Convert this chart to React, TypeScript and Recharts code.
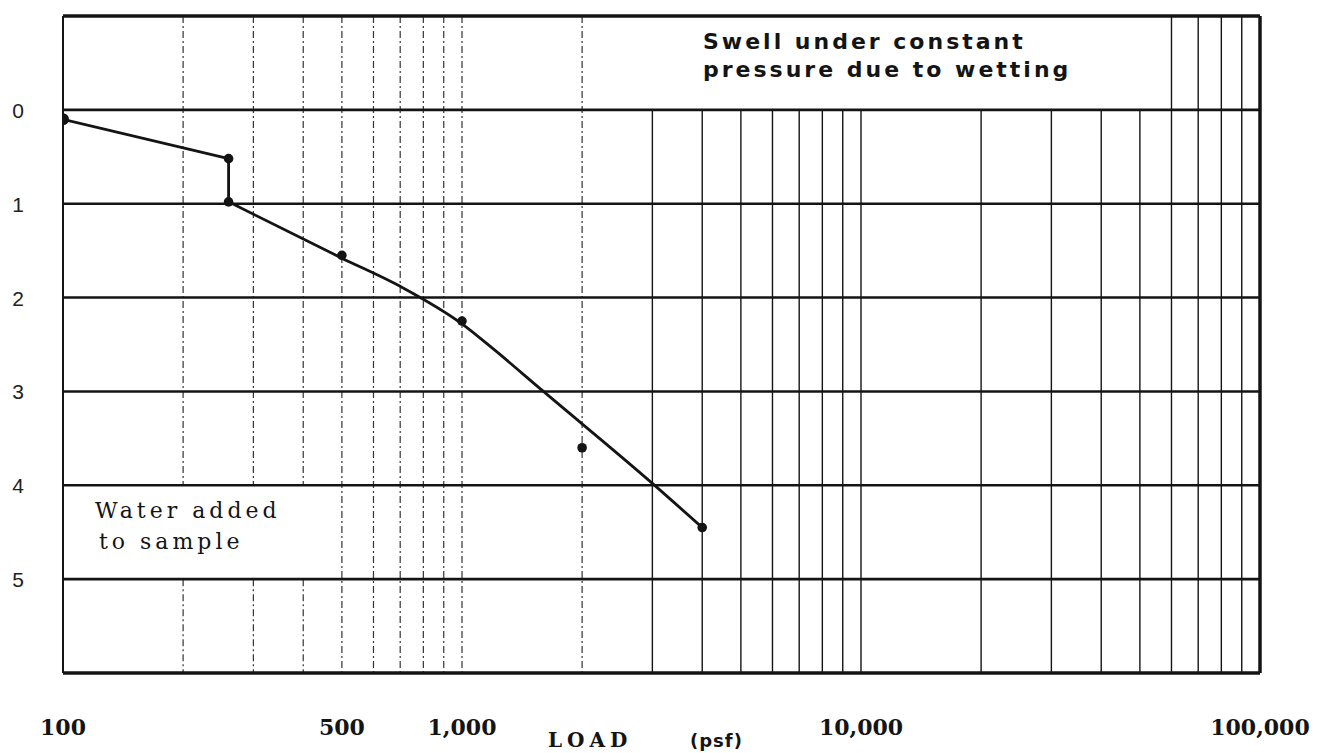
import {
  ComposedChart,
  Line,
  Scatter,
  XAxis,
  YAxis,
  ReferenceLine,
} from 'recharts';

// swell test: dial reading vs load (log scale)
const markerLoad = [100, 260, 260, 500, 1000, 2000, 4000];
const markerSwell = [0.1, 0.52, 0.98, 1.55, 2.25, 3.6, 4.45];

// loading before water was added
const dryLoad = [100, 260];
const drySwell = [0.1, 0.52];

// swell at constant pressure when wetted
const wetLoad = [260, 260];
const wetSwell = [0.52, 0.98];

// hand drawn curve after wetting
const curveLoad = [260, 500, 700, 1000, 1200, 1600, 3000, 4000];
const curveSwell = [0.98, 1.58, 1.88, 2.28, 2.55, 3.0, 3.98, 4.45];

const xTicks = [100, 500, 1000, 10000, 100000];
const yTicks = [0, 1, 2, 3, 4, 5];
const hLines = [-1, 0, 1, 2, 3, 4, 5, 6];
const vLines = [
  200, 300, 400, 500, 600, 700, 800, 900, 1000,
  2000, 3000, 4000, 5000, 6000, 7000, 8000, 9000, 10000,
  20000, 30000, 40000, 50000, 60000, 70000, 80000, 90000,
];
// grid is blank behind the two notes
const topNoteLoads = [3000, 4000, 5000, 6000, 7000, 8000, 9000, 10000, 20000, 30000, 40000, 50000];
const bottomNoteLoads = [200, 300, 400];

const toRows = (xs: number[], ys: number[]) => xs.map((load, i) => ({ load, swell: ys[i] }));

const markers = toRows(markerLoad, markerSwell);
const dry = toRows(dryLoad, drySwell);
const wet = toRows(wetLoad, wetSwell);
const curve = toRows(curveLoad, curveSwell);

const INK = '#141414';

// split a vertical grid line into runs that skip the note boxes
function segmentsFor(load: number) {
  const runs: [number, number][] = [];
  for (let r = -1; r < 6; r++) {
    const hidden =
      (r === -1 && topNoteLoads.includes(load)) || (r === 4 && bottomNoteLoads.includes(load));
    if (hidden) continue;
    const last = runs[runs.length - 1];
    if (last && last[1] === r) last[1] = r + 1;
    else runs.push([r, r + 1]);
  }
  return runs;
}

const fmt = (v: number) => v.toLocaleString('en-US');

const XTick = ({ x, payload }: any) => (
  <text
    x={x}
    y={735}
    textAnchor="middle"
    fontFamily="DejaVu Serif"
    fontWeight="bold"
    fontSize={22}
    fill={INK}
  >
    {fmt(payload.value)}
  </text>
);

const YTick = ({ y, payload }: any) => (
  <text x={18} y={y} dy={8} textAnchor="middle" fontFamily="Liberation Sans" fontSize={21} fill="#222">
    {payload.value}
  </text>
);

const dot = (props: any) => <circle cx={props.cx} cy={props.cy} r={props.index === 0 ? 6 : 4.8} fill={INK} />;

export default function App() {
  return (
    <div style={{ position: 'absolute', left: 0, top: 0, background: '#fff' }}>
      <ComposedChart width={1338} height={753} margin={{ top: 16, right: 78, bottom: 0, left: 0 }}>
        <XAxis
          dataKey="load"
          type="number"
          scale="log"
          domain={[100, 100000]}
          ticks={xTicks}
          tick={<XTick />}
          axisLine={false}
          tickLine={false}
          height={80}
          allowDataOverflow
        />
        <YAxis
          dataKey="swell"
          type="number"
          domain={[-1, 6]}
          reversed
          ticks={yTicks}
          tick={<YTick />}
          axisLine={false}
          tickLine={false}
          width={63}
          allowDataOverflow
        />

        {vLines.map((load) =>
          segmentsFor(load).map(([a, b]) => (
            <ReferenceLine
              key={`v-${load}-${a}`}
              segment={[
                { x: load, y: a },
                { x: load, y: b },
              ]}
              stroke={load < 3000 ? '#333' : INK}
              strokeWidth={load < 3000 ? 1.2 : 1.4}
              strokeDasharray={load < 3000 ? '7 3 2 3' : undefined}
            />
          ))
        )}
        {hLines.map((v) => (
          <ReferenceLine
            key={`h-${v}`}
            y={v}
            stroke={INK}
            strokeWidth={v === -1 || v === 6 ? 3.5 : 2.6}
          />
        ))}
        <ReferenceLine x={100} stroke={INK} strokeWidth={2} />
        <ReferenceLine x={100000} stroke={INK} strokeWidth={3.5} />

        <Line data={dry} dataKey="swell" type="linear" stroke={INK} strokeWidth={2.8} dot={false} isAnimationActive={false} />
        <Line data={wet} dataKey="swell" type="linear" stroke={INK} strokeWidth={2.8} dot={false} isAnimationActive={false} />
        <Line data={curve} dataKey="swell" type="monotone" stroke={INK} strokeWidth={2.8} dot={false} isAnimationActive={false} />
        <Scatter data={markers} dataKey="swell" shape={dot} isAnimationActive={false} />

        <text fontFamily="DejaVu Sans" fontWeight="bold" fontSize={22} letterSpacing={3} fill={INK}>
          <tspan x={703} y={49}>Swell under constant</tspan>
          <tspan x={703} y={77}>pressure due to wetting</tspan>
        </text>
        <text fontFamily="DejaVu Serif" fontSize={22} letterSpacing={4} fill={INK}>
          <tspan x={95} y={518}>Water added</tspan>
          <tspan x={99} y={549}>to sample</tspan>
        </text>
        <text y={747} fontFamily="DejaVu Serif" fontWeight="bold" fill={INK}>
          <tspan x={548} fontSize={20} letterSpacing={5}>LOAD</tspan>
          <tspan x={690} fontSize={18} fontFamily="DejaVu Sans" letterSpacing={1}>(psf)</tspan>
        </text>
      </ComposedChart>
    </div>
  );
}
